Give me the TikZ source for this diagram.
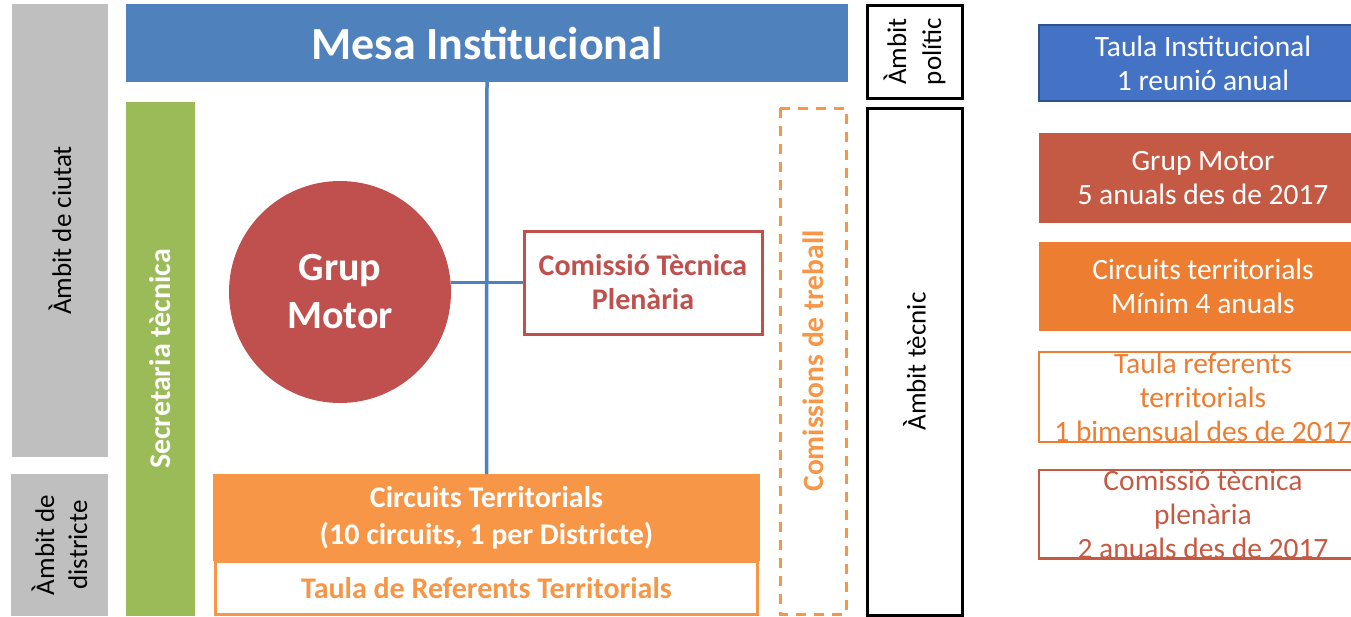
\documentclass[tikz,border=0pt]{standalone}
\usepackage{fontspec}
\setmainfont{Carlito}
\definecolor{grayc}{HTML}{BFBFBF}
\definecolor{mesablue}{HTML}{4F81BD}
\definecolor{greenc}{HTML}{9BBB59}
\definecolor{redc}{HTML}{C0504D}
\definecolor{orangec}{HTML}{F79646}
\definecolor{legblue}{HTML}{4472C4}
\definecolor{legblueb}{HTML}{2F528F}
\definecolor{legred}{HTML}{C55A44}
\definecolor{legorange}{HTML}{ED7D31}
\begin{document}
\begin{tikzpicture}[x=1pt,y=-1pt,
  base/.style={inner sep=0pt, outer sep=0pt, align=center},
  ambit/.style={base, font=\fontsize{27}{33}\selectfont, text=black},
  legend/.style={base, minimum width=328pt, font=\fontsize{29.5}{34}\selectfont},
  link/.style={draw=mesablue, line width=3.5pt}
]
\useasboundingbox (0,0) rectangle (1351,616);
% left gray bands
\node[ambit, fill=grayc, rotate=90, minimum width=453pt, minimum height=96pt] (ciutat) at (60,230.5) {Àmbit de ciutat};
\node[ambit, fill=grayc, rotate=90, minimum width=142pt, minimum height=97pt] (districte) at (59.5,545) {Àmbit de\\districte};
% Mesa
\node[base, fill=mesablue, minimum width=722pt, minimum height=78pt, text=white, font=\bfseries\fontsize{46}{50}\selectfont] (mesa) at (487,43) {Mesa Institucional};
% Secretaria
\node[base, fill=greenc, rotate=90, minimum width=514pt, minimum height=69pt, text=white, font=\bfseries\fontsize{30}{34}\selectfont] (secr) at (160.5,359) {Secretaria tècnica};
% Circuits
\node[base, fill=orangec, minimum width=547pt, minimum height=87pt, text=white, font=\bfseries\fontsize{30}{37}\selectfont] (circ) at (486.5,517.5) {Circuits Territorials\\(10 circuits, 1 per Districte)};
\node[base, draw=orangec, line width=2.5pt, fill=white, minimum width=542pt, minimum height=53pt, text=orangec, font=\bfseries\fontsize{30}{34}\selectfont] (taula) at (486.5,588) {Taula de Referents Territorials};
% connectors
\draw[link] (mesa.south) -- (circ.north);
% Grup Motor
\node[base, circle, fill=redc, minimum size=222pt, text=white, font=\bfseries\fontsize{40}{48}\selectfont] (gm) at (340,292) {Grup\\Motor};
% Comissio tecnica
\node[base, draw=redc, line width=3pt, fill=white, minimum width=238pt, minimum height=103pt, text=redc, font=\bfseries\fontsize{30}{34}\selectfont] (cte) at (643,282.5) {Comissió Tècnica\\Plenària};
\draw[link] (cte.west) -- (cte.west -| gm.east);
% Comissions de treball
\node[base, draw=orangec, line width=3pt, dash pattern=on 10pt off 8pt, rotate=90, minimum width=506pt, minimum height=66pt, text=orangec, font=\bfseries\fontsize{29.5}{34}\selectfont] (comtr) at (813,361) {Comissions de treball};
% Ambit boxes
\node[ambit, draw=black, line width=3pt, rotate=90, minimum width=93pt, minimum height=95pt, font=\fontsize{27}{35}\selectfont] (polit) at (914.5,51.5) {Àmbit\\polític};
\node[ambit, draw=black, line width=3pt, rotate=90, minimum width=507pt, minimum height=95pt] (tecnic) at (914.5,361.5) {Àmbit tècnic};
% Legend
\node[legend, fill=legblue, draw=legblueb, line width=2pt, minimum height=76pt, text=white] (l1) at (1203,63) {Taula Institucional\\1 reunió anual};
\node[legend, fill=legred, minimum height=90pt, text=white] (l2) at (1203,178) {Grup Motor\\5 anuals des de 2017};
\node[legend, fill=legorange, minimum height=89pt, text=white] (l3) at (1203,286.5) {Circuits territorials\\Mínim 4 anuals};
\node[legend, draw=legorange, line width=2.5pt, minimum height=90pt, text=legorange] (l4) at (1203,397) {Taula referents\\territorials\\1 bimensual des de 2017};
\node[legend, draw=legred, line width=2.5pt, minimum height=88pt, text=legred] (l5) at (1203,514) {Comissió tècnica\\plenària\\2 anuals des de 2017};
\end{tikzpicture}
\end{document}
